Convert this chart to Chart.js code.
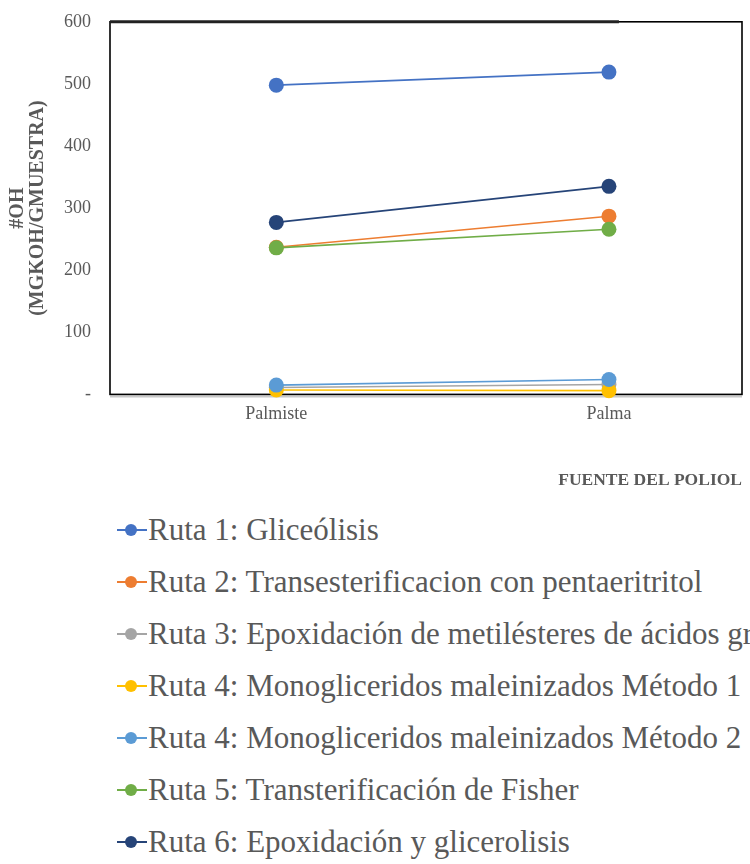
<!DOCTYPE html>
<html>
<head>
<meta charset="utf-8">
<script src="https://cdn.jsdelivr.net/npm/chart.js@4.4.1/dist/chart.umd.min.js"></script>
<style>
  html, body { margin: 0; padding: 0; background: #fff; overflow: hidden; width: 750px; height: 864px; }
  #wrap { position: relative; width: 750px; height: 500px; }
  #leyenda { padding-top: 4px; font-family: "Liberation Serif", "Times New Roman", serif; font-size: 31px; color: #595959; white-space: nowrap; }
  .fila { height: 52px; line-height: 52px; display: flex; align-items: center; }
  .simbolo { position: relative; width: 30px; height: 14px; margin-left: 117px; margin-right: 1px; flex: none; }
  .simbolo .linea { position: absolute; left: 0; right: 0; top: 6px; height: 2px; }
  .simbolo .punto { position: absolute; left: 8px; top: 1px; width: 12px; height: 12px; border-radius: 50%; }
</style>
</head>
<body>
<div id="wrap"><canvas id="grafico"></canvas></div>
<div id="leyenda"></div>
<script>
// categorias y valores (#OH mgKOH/g muestra)
const categorias = ['Palmiste', 'Palma'];
const nombres = [
  'Ruta 1: Gliceólisis',
  'Ruta 2: Transesterificacion con pentaeritritol',
  'Ruta 3: Epoxidación de metilésteres de ácidos grasos',
  'Ruta 4: Monogliceridos maleinizados Método 1',
  'Ruta 4: Monogliceridos maleinizados Método 2',
  'Ruta 5: Transterificación de Fisher',
  'Ruta 6: Epoxidación y glicerolisis'
];
const ruta1 = [498, 519];
const ruta2 = [237, 287];
const ruta3 = [11, 16];
const ruta4m1 = [7, 6];
const ruta4m2 = [15, 24];
const ruta5 = [236, 266];
const ruta6 = [277, 335];
const ticksY = [0, 100, 200, 300, 400, 500, 600];

const colores = ['#4472C4', '#ED7D31', '#A5A5A5', '#FFC000', '#5B9BD5', '#70AD47', '#264478'];
const series = [ruta1, ruta2, ruta3, ruta4m1, ruta4m2, ruta5, ruta6];

const datasets = series.map((vals, i) => ({
  label: nombres[i],
  data: vals.map((v, j) => ({ x: j, y: v })),
  borderColor: colores[i],
  backgroundColor: colores[i],
  borderWidth: 1.6,
  pointRadius: 7.5,
  pointHoverRadius: 7.5,
  pointBorderWidth: 0,
  clip: false,
  order: series.length - i
}));

// marco del area de trazado
const marco = {
  id: 'marco',
  beforeDatasetsDraw(chart) {
    const a = chart.chartArea;
    const ctx = chart.ctx;
    const xPalma = chart.scales.x.getPixelForValue(1) + 10;
    ctx.save();
    ctx.strokeStyle = '#c8c8c8';
    ctx.lineWidth = 2;
    ctx.beginPath();
    ctx.moveTo(a.left, a.bottom + 2);
    ctx.lineTo(a.right, a.bottom + 2);
    ctx.stroke();
    ctx.strokeStyle = '#000';
    ctx.lineWidth = 1.6;
    ctx.strokeRect(a.left, a.top, a.right - a.left, a.bottom - a.top);
    ctx.lineWidth = 3;
    ctx.strokeStyle = '#222';
    ctx.beginPath();
    ctx.moveTo(a.left, a.top);
    ctx.lineTo(xPalma, a.top);
    ctx.stroke();
    ctx.restore();
  }
};

const ctx = document.getElementById('grafico').getContext('2d');
const chart = new Chart(ctx, {
  type: 'line',
  data: { datasets: datasets },
  options: {
    responsive: true,
    maintainAspectRatio: false,
    animation: false,
    layout: { padding: { top: 17, right: 8, left: 0, bottom: 9 } },
    plugins: { legend: { display: false }, tooltip: { enabled: false } },
    scales: {
      x: {
        type: 'linear',
        min: -0.5,
        max: 1.4,
        grid: { display: false },
        border: { display: false },
        afterBuildTicks: (scale) => { scale.ticks = categorias.map((c, i) => ({ value: i })); },
        ticks: {
          padding: 1,
          color: '#595959',
          font: { family: 'Liberation Serif', size: 18 },
          callback: (v) => categorias[v]
        },
        title: {
          display: true,
          text: 'FUENTE DEL POLIOL',
          align: 'end',
          color: '#595959',
          font: { family: 'Liberation Serif', size: 17.5, weight: 'bold' },
          padding: { top: 44, bottom: 0 }
        }
      },
      y: {
        min: 0,
        max: 600,
        grid: { display: false },
        border: { display: false },
        afterBuildTicks: (scale) => { scale.ticks = ticksY.map(v => ({ value: v })); },
        afterFit: (scale) => { scale.width = 110; },
        ticks: {
          padding: 11,
          color: '#595959',
          font: { family: 'Liberation Serif', size: 18 },
          callback: (v) => v === 0 ? '-' : v
        },
        title: {
          display: true,
          text: ['#OH', '(MGKOH/GMUESTRA)'],
          color: '#595959',
          font: { family: 'Liberation Serif', size: 20, weight: 'bold', lineHeight: 1.0 },
          padding: { top: 8, bottom: 0 }
        }
      }
    }
  },
  plugins: [marco]
});

// leyenda en html
const leyenda = document.getElementById('leyenda');
nombres.forEach((n, i) => {
  const fila = document.createElement('div');
  fila.className = 'fila';
  fila.innerHTML = '<span class="simbolo"><span class="linea" style="background:' + colores[i] +
    '"></span><span class="punto" style="background:' + colores[i] + '"></span></span><span>' + n + '</span>';
  leyenda.appendChild(fila);
});
</script>
</body>
</html>
